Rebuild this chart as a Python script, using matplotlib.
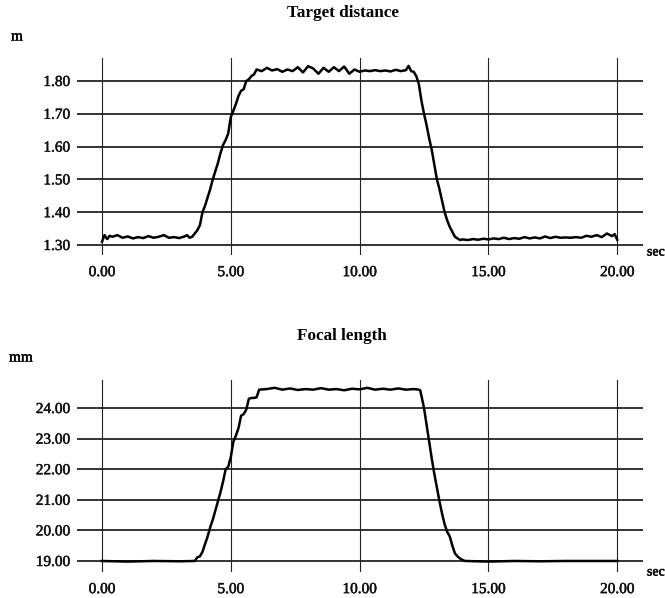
import numpy as np
import matplotlib.pyplot as plt
import matplotlib.patheffects as pe

plt.rcParams['font.family'] = ['Liberation Serif', 'DejaVu Serif']

# Target distance [m] vs time [sec].
dist_t = [0.0, 0.1, 0.2, 0.3, 0.4, 0.6, 0.8, 1.0, 1.2, 1.4, 1.6, 1.8, 2.0, 2.2, 2.4,
          2.6, 2.8, 3.0, 3.2, 3.3, 3.4, 3.5, 3.6, 3.7, 3.8, 3.9, 4.0, 4.1, 4.2, 4.3,
          4.4, 4.5, 4.6, 4.7, 4.8, 4.9, 5.0, 5.1, 5.2, 5.3, 5.4, 5.5, 5.6, 5.7, 5.8,
          5.9, 6.0, 6.2, 6.4, 6.6, 6.8, 7.0, 7.2, 7.4, 7.6, 7.8, 8.0, 8.2, 8.4, 8.6,
          8.8, 9.0, 9.2, 9.4, 9.6, 9.8, 10.0, 10.2, 10.4, 10.6, 10.8, 11.0, 11.2,
          11.4, 11.6, 11.8, 11.9, 12.0, 12.1, 12.2, 12.3, 12.4, 12.5, 12.6, 12.7,
          12.8, 12.9, 13.0, 13.1, 13.2, 13.3, 13.4, 13.5, 13.6, 13.7, 13.8, 13.9,
          14.0, 14.2, 14.4, 14.6, 14.8, 15.0, 15.2, 15.4, 15.6, 15.8, 16.0, 16.2,
          16.4, 16.6, 16.8, 17.0, 17.2, 17.4, 17.6, 17.8, 18.0, 18.2, 18.4, 18.6,
          18.8, 19.0, 19.2, 19.4, 19.6, 19.8, 19.9, 20.0]
dist_m = [1.310, 1.330, 1.318, 1.328, 1.325, 1.330, 1.322, 1.326, 1.320, 1.324, 1.321,
          1.327, 1.322, 1.325, 1.330, 1.322, 1.324, 1.321, 1.326, 1.330, 1.322, 1.325,
          1.335, 1.345, 1.360, 1.400, 1.420, 1.445, 1.470, 1.500, 1.525, 1.550, 1.580,
          1.605, 1.620, 1.640, 1.690, 1.710, 1.730, 1.755, 1.770, 1.775, 1.800, 1.805,
          1.815, 1.820, 1.835, 1.830, 1.840, 1.832, 1.836, 1.828, 1.835, 1.830, 1.842,
          1.826, 1.845, 1.838, 1.822, 1.840, 1.828, 1.842, 1.830, 1.844, 1.822, 1.835,
          1.828, 1.832, 1.830, 1.833, 1.830, 1.832, 1.829, 1.834, 1.830, 1.833, 1.846,
          1.830, 1.828, 1.815, 1.790, 1.740, 1.700, 1.665, 1.625, 1.590, 1.545, 1.500,
          1.470, 1.435, 1.400, 1.375, 1.355, 1.340, 1.325, 1.320, 1.315, 1.317, 1.315,
          1.318, 1.316, 1.319, 1.317, 1.320, 1.318, 1.322, 1.318, 1.321, 1.319, 1.324,
          1.320, 1.323, 1.320, 1.326, 1.321, 1.325, 1.322, 1.323, 1.322, 1.324, 1.322,
          1.328, 1.325, 1.330, 1.324, 1.335, 1.327, 1.333, 1.316]

# Focal length [mm] vs time [sec].
focal_t = [0.0, 1.0, 2.0, 3.0, 3.6, 3.7, 3.8, 3.9, 4.0, 4.1, 4.2, 4.3, 4.4, 4.5, 4.6,
           4.7, 4.8, 4.9, 5.0, 5.1, 5.2, 5.3, 5.4, 5.5, 5.6, 5.7, 5.8, 5.9, 6.0, 6.1,
           6.4, 6.7, 7.0, 7.3, 7.6, 7.9, 8.2, 8.5, 8.8, 9.1, 9.4, 9.7, 10.0, 10.3,
           10.6, 10.9, 11.2, 11.5, 11.8, 12.1, 12.3, 12.35, 12.4, 12.5, 12.6, 12.7,
           12.8, 12.9, 13.0, 13.1, 13.2, 13.3, 13.4, 13.5, 13.6, 13.7, 13.8, 13.9,
           14.0, 14.1, 15.0, 16.0, 17.0, 18.0, 19.0, 20.0]
focal_mm = [19.00, 18.98, 19.00, 18.99, 19.00, 19.12, 19.15, 19.30, 19.55, 19.80, 20.10,
            20.35, 20.65, 20.95, 21.25, 21.60, 22.00, 22.08, 22.40, 22.90, 23.10, 23.35,
            23.75, 23.80, 23.95, 24.30, 24.33, 24.33, 24.35, 24.60, 24.62, 24.66, 24.60,
            24.64, 24.59, 24.62, 24.60, 24.65, 24.60, 24.62, 24.58, 24.63, 24.61, 24.66,
            24.60, 24.63, 24.60, 24.64, 24.60, 24.62, 24.60, 24.58, 24.40, 24.00, 23.45,
            22.90, 22.35, 21.85, 21.40, 20.95, 20.55, 20.20, 19.95, 19.80, 19.50, 19.25,
            19.15, 19.08, 19.03, 19.00, 18.98, 19.00, 18.99, 19.00, 19.00, 19.00]

x_ticks = [0, 5, 10, 15, 20]
dist_ticks = [1.30, 1.40, 1.50, 1.60, 1.70, 1.80]
focal_ticks = [19, 20, 21, 22, 23, 24]

# slightly heavier text, like the scanned print
ink = [pe.withStroke(linewidth=0.35, foreground='#111111')]

fig = plt.figure(figsize=(6.65, 5.98), dpi=100)
ax1 = fig.add_axes([0.1158, 0.5736, 0.8511, 0.3294])
ax2 = fig.add_axes([0.1158, 0.0435, 0.8511, 0.3210])


def style(ax, yticks, ylim):
    ax.set_xlim(-0.97, 21.0)
    ax.set_ylim(*ylim)
    for s in ax.spines.values():
        s.set_visible(False)
    for y in yticks:
        ax.axhline(y, color='#111111', lw=1.2, zorder=1)
    for x in x_ticks:
        ax.axvline(x, color='#222222', lw=0.8, zorder=1)
    ax.set_xticks(x_ticks)
    ax.set_xticklabels(['%.2f' % v for v in x_ticks])
    ax.set_yticks(yticks)
    ax.set_yticklabels(['%.2f' % v for v in yticks])
    ax.tick_params(length=0, labelsize=11, colors='#111111', pad=5)
    ax.tick_params(axis='x', pad=8)
    for lab in ax.get_xticklabels() + ax.get_yticklabels():
        lab.set_path_effects(ink)


style(ax1, dist_ticks, (1.2695, 1.870))
ax1.plot(dist_t, dist_m, color='black', lw=1.8, zorder=3)

style(ax2, focal_ticks, (18.64, 24.915))
ax2.plot(focal_t, focal_mm, color='black', lw=1.8, zorder=3)

fig.text(343 / 665, 1 - 13 / 598, 'Target distance', ha='center', va='center',
         fontsize=12.3, fontweight='bold')
fig.text(342 / 665, 1 - 336 / 598, 'Focal length', ha='center', va='center',
         fontsize=12.3, fontweight='bold')
fig.text(11 / 665, 1 - 37 / 598, 'm', ha='left', va='center', fontsize=11,
         path_effects=ink)
fig.text(9 / 665, 1 - 358 / 598, 'mm', ha='left', va='center', fontsize=11,
         path_effects=ink)
fig.text(647 / 665, 1 - 252 / 598, 'sec', ha='left', va='center', fontsize=10,
         path_effects=ink)
fig.text(647 / 665, 1 - 572 / 598, 'sec', ha='left', va='center', fontsize=10,
         path_effects=ink)

fig.savefig('out.png', dpi=100)
plt.close(fig)
